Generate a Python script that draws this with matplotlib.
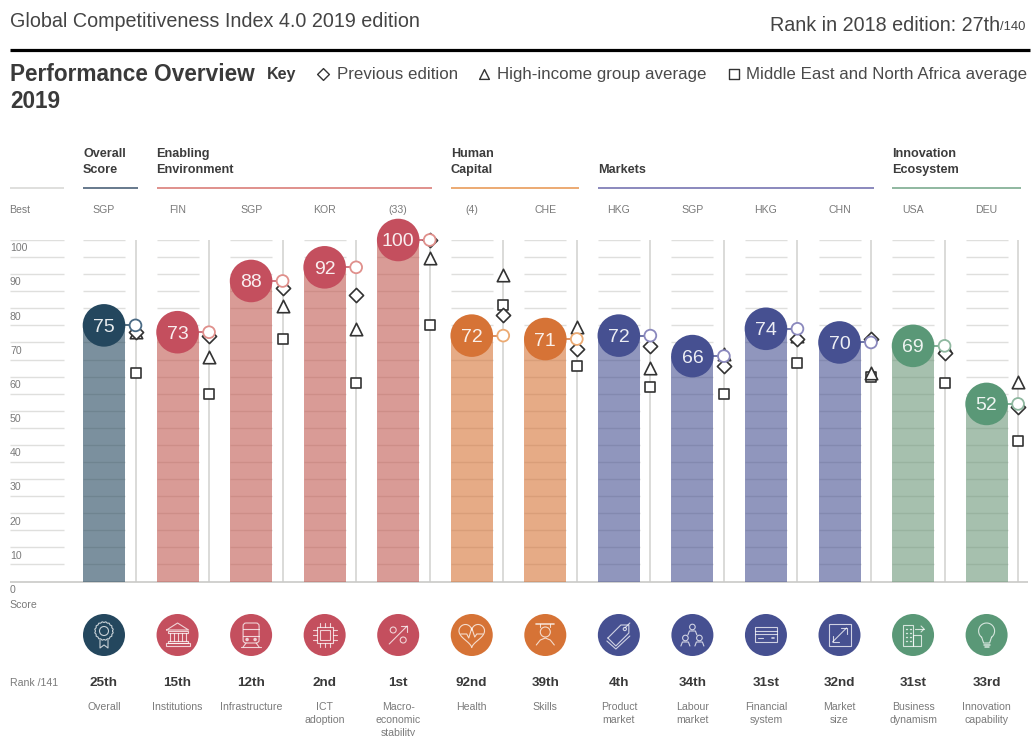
import matplotlib
matplotlib.use("Agg")
import matplotlib.pyplot as plt
from matplotlib.patches import Circle, Rectangle, FancyBboxPatch
import numpy as np

plt.rcParams["font.family"] = ["Liberation Sans", "DejaVu Sans"]

best = ["SGP", "FIN", "SGP", "KOR", "(33)", "(4)", "CHE", "HKG", "SGP", "HKG", "CHN", "USA", "DEU"]
scores = [75, 73, 88, 92, 100, 72, 71, 72, 66, 74, 70, 69, 52]
previous = [73, 72, 86, 84, 100, 78, 68, 69, 63, 71, 71, 67, 51]
high_income = [73, 65.7, 80.8, 73.8, 94.8, 89.7, 74.6, 62.6, 66.5, 72, 61, 69, 58.5]
mena = [61, 55, 71, 58, 75, 81, 63, 57, 55, 64, 60, 58, 41]
ranks = ["25th", "15th", "12th", "2nd", "1st", "92nd", "39th", "4th", "34th", "31st", "32nd", "31st", "33rd"]
names = ["Overall", "Institutions", "Infrastructure", "ICT\nadoption", "Macro-\neconomic\nstability",
         "Health", "Skills", "Product\nmarket", "Labour\nmarket", "Financial\nsystem",
         "Market\nsize", "Business\ndynamism", "Innovation\ncapability"]
groups = ["Overall\nScore", "Enabling\nEnvironment", "Human\nCapital", "Markets", "Innovation\nEcosystem"]
group_sizes = [1, 4, 2, 4, 2]

dark = ["#24475e", "#c44f5e", "#d67336", "#465091", "#5a9877"]
soft = ["#24475e", "#c15850", "#d67336", "#465091", "#6b9678"]
rule = ["#66798c", "#e0908c", "#ecaa72", "#8a88bd", "#8fb8a0"]
idx = np.repeat(np.arange(5), group_sizes)

W, H = 1033, 736
Y0, Y100 = 581.5, 240
bar_x = 104 + np.arange(13) * 73.55
mark_x = bar_x + 31.5
GRID = "#dfdfdd"
GREY = "#7a7a7a"

fig = plt.figure(figsize=(W / 100, H / 100), dpi=100)

# page furniture lives on an axes measured in pixels
page = fig.add_axes([0, 0, 1, 1], zorder=3)
page.set_xlim(0, W)
page.set_ylim(H, 0)
page.axis("off")
page.patch.set_alpha(0)

# the score scale
ax = fig.add_axes([0, (H - Y0) / H, 1, (Y0 - Y100) / H], zorder=2)
ax.set_xlim(0, W)
ax.set_ylim(0, 100)
ax.axis("off")

levels = np.arange(5, 101, 5)
ax.hlines(levels, 10, 64, color=GRID, lw=1.0, zorder=1)
for x in bar_x:
    ax.hlines(levels, x - 21, x + 21, color=GRID, lw=1.0, zorder=1)
ax.vlines(mark_x, 0, 100, color="#d4d4d2", lw=1.2, zorder=1)
ax.hlines(0, 10, 1028, color="#c9c9c7", lw=1.2, zorder=2, clip_on=False)
ax.bar(bar_x, scores, width=42, color=[soft[i] for i in idx], alpha=0.6, zorder=2)

ax.hlines(scores, bar_x, mark_x, color=[dark[i] for i in idx], lw=1.1, zorder=3, clip_on=False)
ax.scatter(mark_x, mena, marker="s", s=48, facecolor="white", edgecolor="#333333", lw=1.2, zorder=4, clip_on=False)
ax.scatter(mark_x, high_income, marker="^", s=80, facecolor="white", edgecolor="#333333", lw=1.2, zorder=4, clip_on=False)
ax.scatter(mark_x, previous, marker="D", s=52, facecolor="white", edgecolor="#333333", lw=1.2, zorder=5, clip_on=False)
ax.scatter(mark_x, scores, marker="o", s=72, facecolor="white", edgecolor=[rule[i] if i else "#4a6a84" for i in idx],
           lw=1.3, zorder=6, clip_on=False)
ax.scatter(bar_x, scores, marker="o", s=940, color=[dark[i] for i in idx], lw=0, zorder=7, clip_on=False)
for x, s in zip(bar_x, scores):
    ax.text(x, s, str(s), color="white", fontsize=14, ha="center", va="center_baseline", zorder=8, alpha=0.9)

for v in range(0, 101, 10):
    ax.annotate(str(v), (10, v), xytext=(0, -6), textcoords="offset points", color=GREY, fontsize=7.6,
                ha="left", va="center", annotation_clip=False)

# page header and key
page.text(10, 21.5, "Global Competitiveness Index 4.0 2019 edition", fontsize=14.2, color="#444444", va="center")
page.text(1000, 25.5, "Rank in 2018 edition: 27th", fontsize=14.2, color="#444444", va="center", ha="right")
page.text(1000, 26.5, "/140", fontsize=9.4, color="#444444", va="center", ha="left")
page.plot([10, 1030], [50, 50], color="black", lw=2.3, solid_capstyle="butt")
page.text(10, 74.5, "Performance Overview", fontsize=16.3, fontweight="bold", color="#3a3a3a", va="center")
page.text(10, 102, "2019", fontsize=16.3, fontweight="bold", color="#3a3a3a", va="center")
page.text(267, 74.5, "Key", fontsize=11.5, fontweight="bold", color="#3a3a3a", va="center")
key = [(323, "D", 36, "Previous edition", 337), (484, "^", 50, "High-income group average", 497),
       (733.5, "s", 60, "Middle East and North Africa average", 746)]
for kx, m, size, label, tx in key:
    page.scatter([kx], [73.5], marker=m, s=size, facecolor="white", edgecolor="#333333", lw=1.0)
    page.text(tx, 74.5, label, fontsize=12.2, color="#4a4a4a", va="center")

# group headings with their coloured rules
page.plot([10, 64], [187.5, 187.5], color=GRID, lw=1.4, solid_capstyle="butt")
first = 0
for g, n in enumerate(group_sizes):
    x0 = bar_x[first] - 21
    x1 = mark_x[first + n - 1] + 2.5
    page.plot([x0, x1], [187.5, 187.5], color=rule[g], lw=1.4, solid_capstyle="butt")
    page.text(x0, 176, groups[g], fontsize=9.1, fontweight="bold", color="#3c3c3c", va="bottom", linespacing=1.4)
    first += n

page.text(9.5, 210, "Best", fontsize=7.6, color=GREY, va="center")
page.text(9.5, 605, "Score", fontsize=7.6, color=GREY, va="center")
page.text(9.5, 683.5, "Rank /141", fontsize=7.6, color=GREY, va="center")
for x, b, r, nm in zip(bar_x, best, ranks, names):
    page.text(x, 210, b, fontsize=7.6, color=GREY, ha="center", va="center")
    page.text(x, 683.5, r, fontsize=9.7, fontweight="bold", color="#3a3a3a", ha="center", va="center")
    page.text(x, 701.5, nm, fontsize=7.6, color=GREY, ha="center", va="top", linespacing=1.4)


# pillar icons, drawn as thin white outlines around the centre of each disc
def stroke(cx, cy, pts, lw=0.8):
    p = np.array(pts, dtype=float)
    page.plot(cx + p[:, 0], cy + p[:, 1], color="white", lw=lw, alpha=0.75, solid_capstyle="round", zorder=6)


def ring(cx, cy, dx, dy, r, lw=0.8):
    page.add_patch(Circle((cx + dx, cy + dy), r, fill=False, ec="white", lw=lw, alpha=0.75, zorder=6))


def box(cx, cy, x0, y0, w, h, lw=0.8):
    page.add_patch(Rectangle((cx + x0, cy + y0), w, h, fill=False, ec="white", lw=lw, alpha=0.75, zorder=6))


def icon_overall(cx, cy):
    t = np.linspace(0, 2 * np.pi, 33)
    r = 8.5 + 0.9 * (np.arange(33) % 2)
    stroke(cx, cy, np.c_[r * np.cos(t), r * np.sin(t) - 4])
    ring(cx, cy, 0, -4, 4.5)
    stroke(cx, cy, [(-4, 5), (-4, 13), (0, 10), (4, 13), (4, 5)])


def icon_institutions(cx, cy):
    stroke(cx, cy, [(-11, -5), (0, -12), (11, -5), (-11, -5)])
    box(cx, cy, -10, -4, 20, 2)
    for dx in (-8, -4, 0, 4, 8):
        stroke(cx, cy, [(dx, -2), (dx, 6)])
    box(cx, cy, -10, 6, 20, 2)
    box(cx, cy, -12, 8, 24, 2.5)


def icon_infrastructure(cx, cy):
    page.add_patch(FancyBboxPatch((cx - 8, cy - 12), 16, 20, boxstyle="round,pad=0,rounding_size=3", fill=False,
                                  ec="white", lw=0.8, alpha=0.75, zorder=6))
    stroke(cx, cy, [(-8, -6), (8, -6)])
    stroke(cx, cy, [(-8, 1), (8, 1)])
    ring(cx, cy, -4, 4.5, 0.9, lw=1.2)
    ring(cx, cy, 4, 4.5, 0.9, lw=1.2)
    stroke(cx, cy, [(-8, 12), (-5, 8)])
    stroke(cx, cy, [(8, 12), (5, 8)])
    stroke(cx, cy, [(-10, 12), (10, 12)])


def icon_ict(cx, cy):
    box(cx, cy, -8, -8, 16, 16)
    box(cx, cy, -5, -5, 10, 10)
    for d in (-5, 0, 5):
        stroke(cx, cy, [(d, -12), (d, -8)])
        stroke(cx, cy, [(d, 8), (d, 12)])
        stroke(cx, cy, [(-12, d), (-8, d)])
        stroke(cx, cy, [(8, d), (12, d)])


def icon_macro(cx, cy):
    stroke(cx, cy, [(-9, 9), (9, -9)])
    stroke(cx, cy, [(3, -9), (9, -9), (9, -3)])
    ring(cx, cy, -5, -5, 3)
    ring(cx, cy, 5, 5, 3)


def icon_health(cx, cy):
    t = np.linspace(0, 2 * np.pi, 60)
    stroke(cx, cy, np.c_[0.8 * 16 * np.sin(t) ** 3,
                         -0.8 * (13 * np.cos(t) - 5 * np.cos(2 * t) - 2 * np.cos(3 * t) - np.cos(4 * t)) - 1])
    stroke(cx, cy, [(-11, -1), (-5, -1), (-3, 3), (0, -7), (3, 2), (5, -1), (11, -1)])


def icon_skills(cx, cy):
    stroke(cx, cy, [(-9, -11), (9, -11)], lw=1.2)
    stroke(cx, cy, [(-5, -11), (-5, -8)])
    stroke(cx, cy, [(5, -11), (5, -8)])
    ring(cx, cy, 0, -3, 5)
    stroke(cx, cy, [(-9, 10), (-5, 5), (0, 3), (5, 5), (9, 10)])


def icon_product(cx, cy):
    stroke(cx, cy, [(-11, 3), (2, -10), (10, -10), (10, -2), (-3, 11), (-11, 3)])
    stroke(cx, cy, [(-12, 6), (-3, 14), (11, 1)])
    ring(cx, cy, 6, -6, 1.6)
    stroke(cx, cy, [(6, -7), (11, -12)])


def icon_labour(cx, cy):
    for dx, dy in ((0, -8), (-7, 3), (7, 3)):
        ring(cx, cy, dx, dy, 2.8)
        stroke(cx, cy, [(dx - 4.5, dy + 8), (dx - 3, dy + 4), (dx + 3, dy + 4), (dx + 4.5, dy + 8)])


def icon_financial(cx, cy):
    box(cx, cy, -11, -8, 22, 15)
    stroke(cx, cy, [(-11, -4), (11, -4)])
    stroke(cx, cy, [(-11, -1.5), (11, -1.5)])
    stroke(cx, cy, [(-8, 3), (-3, 3)])
    stroke(cx, cy, [(6, 3), (8, 3)], lw=1.2)


def icon_market(cx, cy):
    box(cx, cy, -11, -11, 22, 22)
    stroke(cx, cy, [(-7, 7), (7, -7)])
    stroke(cx, cy, [(1, -7), (7, -7), (7, -1)])
    stroke(cx, cy, [(-7, 1), (-7, 7), (-1, 7)])


def icon_business(cx, cy):
    box(cx, cy, -10, -10, 10, 21)
    box(cx, cy, 0, 0, 8, 11)
    for dx in (-7, -3):
        for dy in (-6, -2, 2, 6):
            stroke(cx, cy, [(dx, dy), (dx + 1, dy)], lw=1)
    stroke(cx, cy, [(2, -6), (11, -6)])
    stroke(cx, cy, [(8, -9), (11, -6), (8, -3)])


def icon_innovation(cx, cy):
    t = np.linspace(np.radians(130), np.radians(410), 40)
    stroke(cx, cy, np.c_[8 * np.cos(t), 8 * np.sin(t) - 4][::-1])
    stroke(cx, cy, [(-5, 2), (-3, 8), (3, 8), (5, 2)])
    stroke(cx, cy, [(-3, 10), (3, 10)], lw=1.1)
    stroke(cx, cy, [(-2, 12), (2, 12)], lw=1.1)


icons = [icon_overall, icon_institutions, icon_infrastructure, icon_ict, icon_macro, icon_health, icon_skills,
         icon_product, icon_labour, icon_financial, icon_market, icon_business, icon_innovation]
for x, i, draw in zip(bar_x, idx, icons):
    page.add_patch(Circle((x, 635), 21, color=dark[i], lw=0, zorder=5))
    draw(x, 635)

fig.savefig("out.png", dpi=100, facecolor="white")
